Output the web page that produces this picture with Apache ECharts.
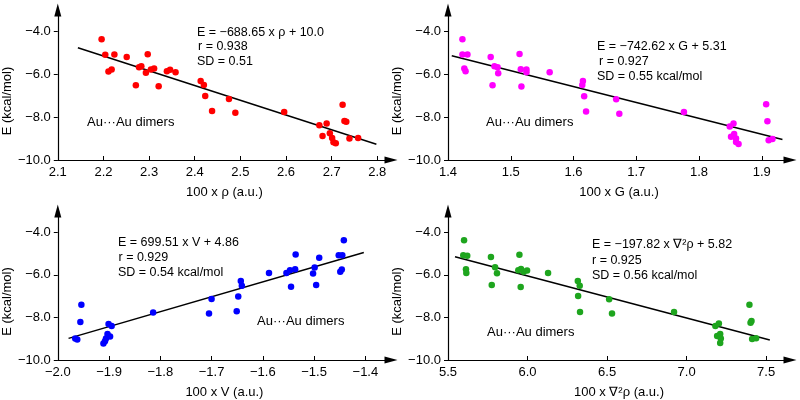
<!DOCTYPE html>
<html>
<head>
<meta charset="utf-8">
<script src="https://cdn.jsdelivr.net/npm/echarts@6/dist/echarts.min.js"></script>
<style>html,body{margin:0;padding:0;background:#fff}#c{width:800px;height:400px}</style>
</head>
<body>
<div id="c"></div>
<script>
// ---- data ----
const rhoX = [2.196,2.204,2.224,2.211,2.218,2.251,2.297,2.278,2.283,2.293,2.304,2.311,2.271,2.321,2.339,2.346,2.358,2.413,2.420,2.423,2.438,2.475,2.489,2.596,2.724,2.728,2.732,2.673,2.689,2.680,2.696,2.701,2.704,2.709,2.739,2.758];
const rhoE = [-4.36,-5.09,-5.08,-5.87,-5.78,-5.19,-5.06,-5.67,-5.62,-5.93,-5.78,-5.73,-6.51,-6.56,-5.86,-5.79,-5.90,-6.31,-6.50,-7.01,-7.71,-7.15,-7.80,-7.76,-7.42,-8.18,-8.22,-8.38,-8.30,-8.88,-8.75,-8.97,-9.17,-9.22,-9.00,-8.97];

const gX = [1.423,1.423,1.431,1.426,1.428,1.468,1.474,1.479,1.480,1.471,1.514,1.516,1.517,1.525,1.525,1.562,1.615,1.614,1.617,1.620,1.668,1.673,1.776,1.907,1.909,1.849,1.855,1.851,1.856,1.859,1.859,1.863,1.911,1.917];
const gE = [-4.36,-5.08,-5.08,-5.73,-5.86,-5.19,-5.62,-5.67,-5.95,-6.51,-5.05,-5.76,-6.57,-5.78,-5.90,-5.91,-6.31,-6.50,-7.02,-7.74,-7.16,-7.84,-7.76,-7.40,-8.19,-8.44,-8.30,-8.91,-8.79,-9.00,-9.16,-9.25,-9.08,-9.02];

const vX = [-1.954,-1.956,-1.966,-1.962,-1.901,-1.895,-1.903,-1.898,-1.906,-1.908,-1.911,-1.814,-1.705,-1.700,-1.651,-1.648,-1.643,-1.641,-1.588,-1.554,-1.547,-1.537,-1.536,-1.545,-1.502,-1.499,-1.496,-1.490,-1.452,-1.445,-1.442,-1.449,-1.446];
const vE = [-7.40,-8.22,-8.99,-9.04,-8.31,-8.40,-8.78,-8.90,-8.99,-9.12,-9.22,-7.77,-7.81,-7.13,-7.71,-7.02,-6.29,-6.51,-5.91,-5.91,-5.78,-5.74,-5.04,-6.56,-5.94,-5.66,-6.48,-5.20,-5.08,-5.08,-4.37,-5.85,-5.75];

const lapX = [5.601,5.596,5.621,5.613,5.615,5.770,5.796,5.808,5.775,5.949,5.942,5.959,5.976,5.997,5.957,6.129,6.316,6.328,6.318,6.330,6.513,6.531,6.921,7.395,7.408,7.402,7.181,7.203,7.192,7.211,7.215,7.211,7.412,7.437];
const lapE = [-4.37,-5.08,-5.10,-5.74,-5.91,-5.16,-5.64,-5.92,-6.48,-5.06,-5.78,-5.72,-5.85,-5.80,-6.57,-5.91,-6.29,-6.51,-6.99,-7.74,-7.15,-7.81,-7.75,-7.41,-8.17,-8.25,-8.40,-8.29,-8.87,-8.78,-8.99,-9.20,-9.01,-8.98];

// regression lines: E = slope * x + intercept (x in the plotted units), drawn over fitRange
const fitSlope = [-6.8865, -7.4262, 6.9951, -1.9782];
const fitIntercept = [10.0, 5.31, 4.86, 5.82];
const fitRange = [[2.144, 2.798], [1.406, 1.933], [-1.979, -1.403], [5.544, 7.523]];

// tick labels
const xTicks1 = [2.1,2.2,2.3,2.4,2.5,2.6,2.7,2.8];
const xTicks2 = [1.4,1.5,1.6,1.7,1.8,1.9];
const xTicks3 = [-2.0,-1.9,-1.8,-1.7,-1.6,-1.5,-1.4];
const xTicks4 = [5.5,6.0,6.5,7.0,7.5];
const yTicks = [-10,-8,-6,-4];

const xNames = ['100 x \u03c1 (a.u.)', '100 x G (a.u.)', '100 x V (a.u.)', '100 x \u2207\u00b2\u03c1 (a.u.)'];
const yName = 'E (kcal/mol)';
const eqText = [
  ['E = \u2212688.65 x \u03c1 + 10.0', 'r = 0.938', 'SD = 0.51'],
  ['E = \u2212742.62 x G + 5.31', 'r = 0.927', 'SD = 0.55 kcal/mol'],
  ['E = 699.51 x V + 4.86', 'r = 0.929', 'SD = 0.54 kcal/mol'],
  ['E = \u2212197.82 x \u2207\u00b2\u03c1 + 5.82', 'r = 0.925', 'SD = 0.56 kcal/mol']
];
const dimerLabel = 'Au\u00b7\u00b7\u00b7Au dimers';

// ---- layout / style ----
const FONT = '"Liberation Sans", Arial, sans-serif';
const colors = ['#ff0000', '#ff00ff', '#0000ff', '#1ea51e'];
const grids = [
  {left: 51, top: 10, width: 340, height: 150},
  {left: 448, top: 10, width: 342, height: 150},
  {left: 50, top: 211, width: 341, height: 150},
  {left: 448, top: 211, width: 342, height: 150}
];
const xRanges = [[2.1, 2.83], [1.4, 1.945], [-2.0, -1.35], [5.5, 7.65]];
const xTickSets = [xTicks1, xTicks2, xTicks3, xTicks4];
const eqPos = [
  [[197, 32.5], [198, 47], [197, 61.5]],
  [[597, 47], [599, 61.5], [597, 76.5]],
  [[118, 242.5], [118.5, 257.5], [118, 272.5]],
  [[592, 244.5], [592, 260.5], [592, 275.5]]
];
const dimerPos = [[87, 122.5], [486, 122.5], [257, 321.5], [487, 332.5]];

const fmt = v => {
  const s = Math.abs(v).toFixed(1);
  return (v < 0 ? '\u2212' : '') + s;
};

const xSets = [[rhoX, rhoE], [gX, gE], [vX, vE], [lapX, lapE]];

const option = {
  animation: false,
  backgroundColor: '#fff',
  grid: grids.map(g => Object.assign({containLabel: false}, g)),
  xAxis: [], yAxis: [], series: [], graphic: []
};

for (let i = 0; i < 4; i++) {
  option.xAxis.push({
    type: 'value', gridIndex: i, min: xRanges[i][0], max: xRanges[i][1],
    axisLine: {show: true, onZero: false, symbol: ['none', 'triangle'], symbolSize: [7, 13],
      lineStyle: {color: '#000', width: 1.2}},
    axisTick: {show: true, inside: true, length: 4, customValues: xTickSets[i], lineStyle: {color: '#000'}},
    axisLabel: {customValues: xTickSets[i], formatter: fmt, color: '#000', fontSize: 13, fontFamily: FONT, margin: 6},
    splitLine: {show: false},
    name: xNames[i], nameLocation: 'middle', nameGap: 26,
    nameTextStyle: {color: '#000', fontSize: 13, fontFamily: FONT}
  });
  option.yAxis.push({
    type: 'value', gridIndex: i, min: -10, max: -3,
    axisLine: {show: true, onZero: false, symbol: ['none', 'triangle'], symbolSize: [7, 13],
      lineStyle: {color: '#000', width: 1.2}},
    axisTick: {show: true, inside: false, length: 4, customValues: yTicks, lineStyle: {color: '#000'}},
    axisLabel: {customValues: yTicks, formatter: fmt, color: '#000', fontSize: 13, fontFamily: FONT, margin: 7},
    splitLine: {show: false},
    name: yName, nameLocation: 'middle', nameGap: 36,
    nameTextStyle: {color: '#000', fontSize: 13, fontFamily: FONT, padding: [0, 32, 0, 0]}
  });
  const xs = xSets[i][0], es = xSets[i][1];
  option.series.push({
    type: 'scatter', xAxisIndex: i, yAxisIndex: i,
    data: xs.map((x, k) => [x, es[k]]),
    symbolSize: 6.5, itemStyle: {color: colors[i], opacity: 1}, z: 3
  });
  option.series.push({
    type: 'line', xAxisIndex: i, yAxisIndex: i, showSymbol: false, symbol: 'none', silent: true,
    data: fitRange[i].map(x => [x, fitSlope[i] * x + fitIntercept[i]]),
    lineStyle: {color: '#000', width: 1.5}, z: 2
  });
  eqText[i].forEach((t, k) => {
    option.graphic.push({
      type: 'text', x: eqPos[i][k][0], y: eqPos[i][k][1], silent: true,
      style: {text: t, fill: '#000', font: '12.5px ' + FONT, align: 'left', verticalAlign: 'middle'}
    });
  });
  option.graphic.push({
    type: 'text', x: dimerPos[i][0], y: dimerPos[i][1], silent: true,
    style: {text: dimerLabel, fill: '#000', font: '13px ' + FONT, align: 'left', verticalAlign: 'middle'}
  });
}

const chart = echarts.init(document.getElementById('c'), null, {renderer: 'canvas'});
chart.setOption(option);
</script>
</body>
</html>
